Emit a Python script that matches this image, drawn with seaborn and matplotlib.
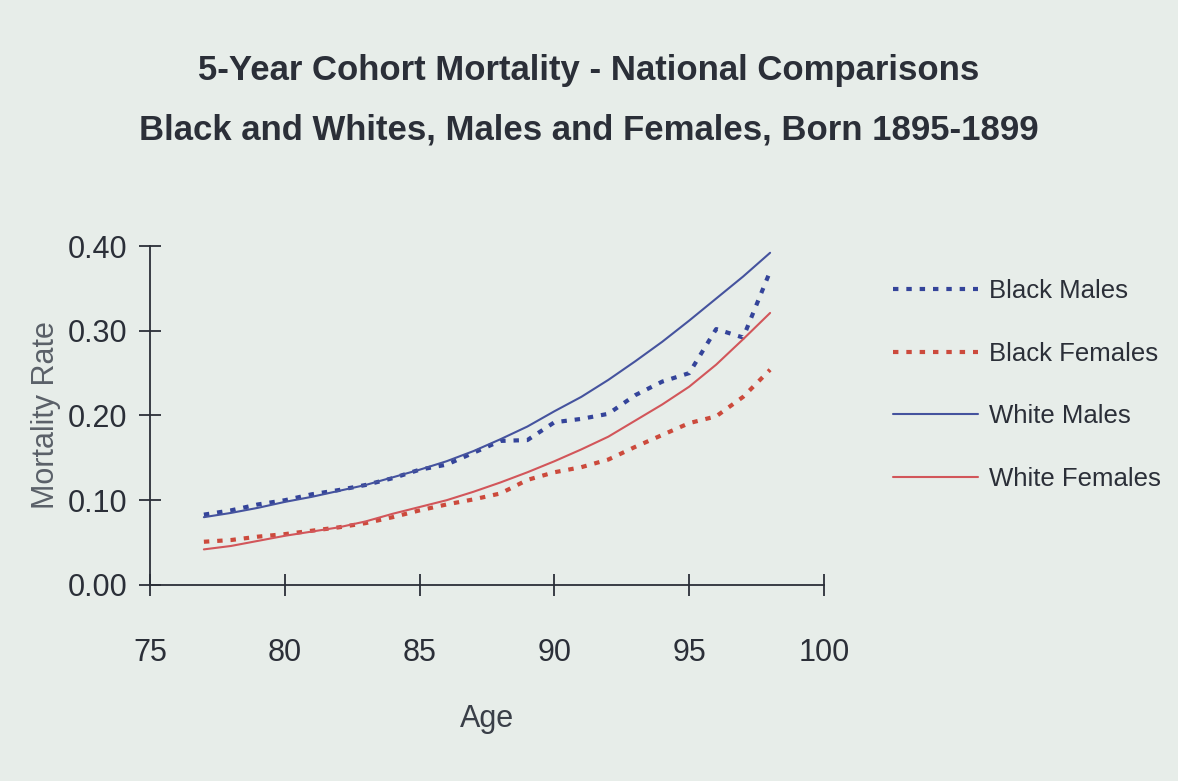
import matplotlib
matplotlib.use("Agg")
import matplotlib.pyplot as plt
import pandas as pd
import seaborn as sns

# Ages and mortality rates
ages = list(range(77, 99))
black_males = [0.083, 0.088, 0.095, 0.100, 0.107, 0.112, 0.118, 0.126, 0.136, 0.142, 0.156,
               0.170, 0.171, 0.192, 0.196, 0.202, 0.224, 0.240, 0.250, 0.302, 0.292, 0.370]
black_females = [0.051, 0.053, 0.057, 0.060, 0.064, 0.068, 0.073, 0.080, 0.088, 0.095, 0.101,
                 0.108, 0.124, 0.133, 0.139, 0.148, 0.163, 0.177, 0.191, 0.199, 0.222, 0.254]
white_males = [0.080, 0.085, 0.091, 0.098, 0.104, 0.111, 0.118, 0.127, 0.136, 0.146, 0.158,
               0.172, 0.187, 0.205, 0.222, 0.242, 0.264, 0.287, 0.312, 0.338, 0.364, 0.392]
white_females = [0.042, 0.046, 0.052, 0.058, 0.063, 0.068, 0.075, 0.084, 0.092, 0.100, 0.110,
                 0.121, 0.133, 0.146, 0.160, 0.175, 0.194, 0.213, 0.234, 0.260, 0.290, 0.321]

groups = ["Black Males", "Black Females", "White Males", "White Females"]
y_ticks = [0.0, 0.1, 0.2, 0.3, 0.4]
x_ticks = [75, 80, 85, 90, 95, 100]

bg = "#e7ede9"
ink = "#2b2f38"

sns.set_theme(style="ticks")
plt.rcParams["font.family"] = ["Liberation Sans", "DejaVu Sans"]

df = pd.DataFrame({
    "Age": ages * 4,
    "Rate": black_males + black_females + white_males + white_females,
    "Group": sum([[g] * len(ages) for g in groups], []),
})

palette = {"Black Males": "#34449a", "Black Females": "#cc4a3c",
           "White Males": "#45539e", "White Females": "#d2565a"}
dashes = {"Black Males": (1.3, 1.9), "Black Females": (1.3, 1.9),
          "White Males": "", "White Females": ""}
sizes = {"Black Males": 3.0, "Black Females": 3.0, "White Males": 1.5, "White Females": 1.5}

fig = plt.figure(figsize=(11.78, 7.81), dpi=100, facecolor=bg)
ax = fig.add_axes([0.1273, 0.251, 0.5722, 0.434])
ax.set_facecolor(bg)

sns.lineplot(data=df, x="Age", y="Rate", hue="Group", style="Group", size="Group",
             palette=palette, dashes=dashes, sizes=sizes, hue_order=groups,
             style_order=groups, size_order=groups, ax=ax, legend=False)

ax.set_xlim(75, 100)
ax.set_ylim(0, 0.40)
ax.set_xticks(x_ticks)
ax.set_yticks(y_ticks)
ax.set_yticklabels([f"{v:.2f}" for v in y_ticks])
ax.tick_params(direction="inout", length=16, width=1.3, colors=ink, labelsize=22, pad=8)
ax.tick_params(axis="x", pad=30)
for s in ["top", "right"]:
    ax.spines[s].set_visible(False)
for s in ["left", "bottom"]:
    ax.spines[s].set_color(ink)
    ax.spines[s].set_linewidth(1.3)

ax.set_xlabel("Age", fontsize=22, color="#3a3f48", labelpad=26)
ax.set_ylabel("Mortality Rate", fontsize=22, color="#5a6068", labelpad=5)

fig.text(0.5, 0.91, "5-Year Cohort Mortality - National Comparisons",
         ha="center", va="center", fontsize=25, fontweight="bold", color=ink)
fig.text(0.5, 0.834, "Black and Whites, Males and Females, Born 1895-1899",
         ha="center", va="center", fontsize=25, fontweight="bold", color=ink)

handles = []
for g in groups:
    ls = (0, dashes[g]) if dashes[g] else "-"
    h, = ax.plot([], [], color=palette[g], lw=sizes[g], linestyle=ls)
    handles.append(h)
fig.legend(handles, groups, loc="upper left", bbox_to_anchor=(0.758, 0.643),
           frameon=False, fontsize=18.5, handlelength=3.3, handletextpad=0.45,
           labelspacing=1.51, borderpad=0, borderaxespad=0, labelcolor=ink)

fig.savefig("out.png", dpi=100, facecolor=bg)
